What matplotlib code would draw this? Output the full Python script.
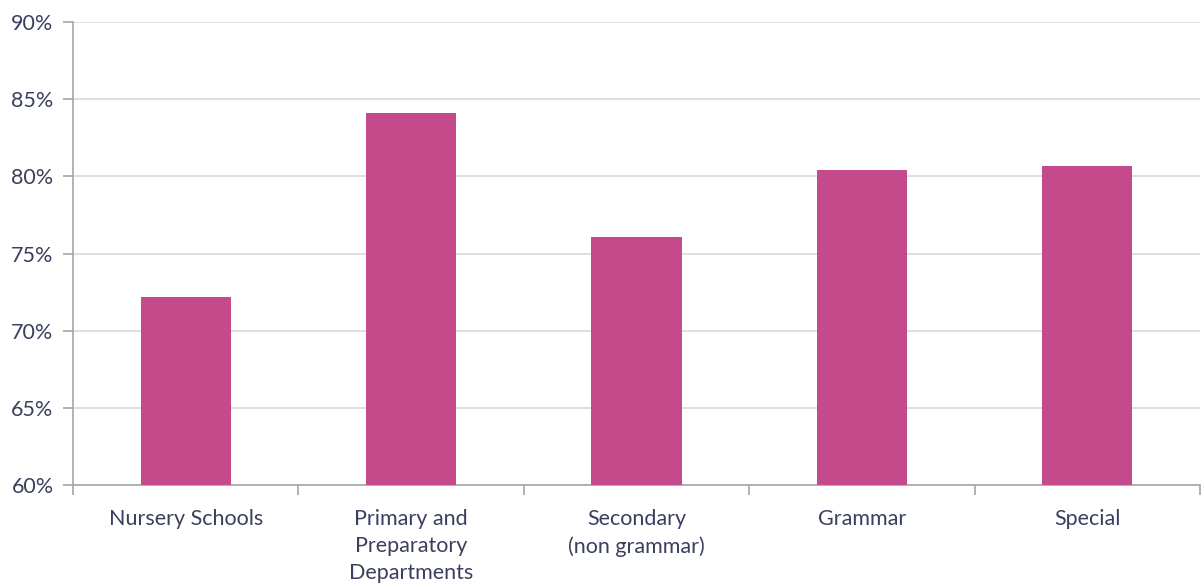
import matplotlib.pyplot as plt
from matplotlib.ticker import FuncFormatter, FixedLocator

# values
categories = ["Nursery Schools", "Primary and\nPreparatory\nDepartments",
              "Secondary\n(non grammar)", "Grammar", "Special"]
values = [72.2, 84.1, 76.1, 80.4, 80.7]
y_ticks = [60, 65, 70, 75, 80, 85, 90]

plt.rcParams['font.family'] = ['Lato', 'DejaVu Sans']
text_color = '#3b3f5e'
axis_color = '#a6a6a6'

fig = plt.figure(figsize=(12.01, 5.84), dpi=100)
ax = fig.add_axes([73 / 1201, 1 - 485 / 584, 1127 / 1201, 463 / 584])

x = list(range(len(categories)))
ax.bar(x, values, width=0.4, color='#c54a8c', zorder=3)

ax.set_xlim(-0.5, len(categories) - 0.5)
ax.set_ylim(60, 90)
ax.set_yticks(y_ticks)
ax.yaxis.set_major_formatter(FuncFormatter(lambda v, p: f"{v:.0f}%"))
ax.grid(axis='y', color='#d9d9d9', linewidth=1.2, zorder=0)

# category labels centred, tick marks at category boundaries
ax.set_xticks(x)
ax.set_xticklabels(categories, linespacing=1.45)
ax.xaxis.set_minor_locator(FixedLocator([i + 0.5 for i in range(-1, len(categories))]))
ax.tick_params(axis='x', which='major', length=0, pad=17, labelsize=15.5, labelcolor=text_color)
ax.tick_params(axis='x', which='minor', length=7, color=axis_color, width=1.2)
ax.tick_params(axis='y', length=7, color=axis_color, width=1.2, labelsize=15.5,
               labelcolor=text_color, pad=7)

for s in ['top', 'right']:
    ax.spines[s].set_visible(False)
for s in ['left', 'bottom']:
    ax.spines[s].set_color(axis_color)
    ax.spines[s].set_linewidth(1.2)

plt.savefig("out.png", dpi=100)
